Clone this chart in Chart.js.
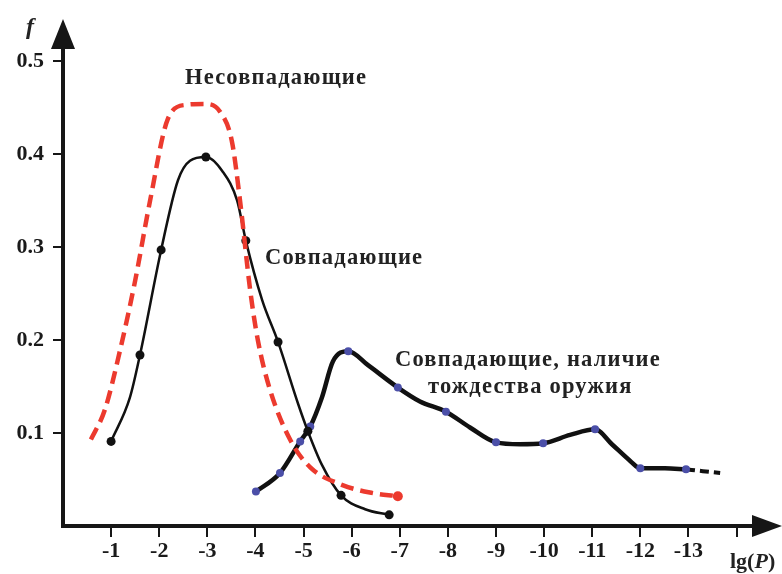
<!DOCTYPE html>
<html>
<head>
<meta charset="utf-8">
<script src="https://cdn.jsdelivr.net/npm/chart.js@4.4.0/dist/chart.umd.min.js"></script>
<style>
  html, body { margin: 0; padding: 0; background: #fff; }
  #wrap { width: 782px; height: 574px; }
</style>
</head>
<body>
<div id="wrap"><canvas id="myChart" width="782" height="574"></canvas></div>
<script>
// x = -lg(P), y = f
const xTicks = [1, 2, 3, 4, 5, 6, 7, 8, 9, 10, 11, 12, 13, 14];
const yTicks = [0.1, 0.2, 0.3, 0.4, 0.5];

// "Несовпадающие" (red dashed)
const redX = [0.58, 0.87, 1.19, 1.5, 1.81, 2.18, 2.54, 2.95, 3.26, 3.51, 3.68, 3.89, 4.05, 4.3, 4.72, 5.14, 5.76, 6.38, 6.96];
const redY = [0.093, 0.125, 0.19, 0.264, 0.35, 0.438, 0.453, 0.454, 0.446, 0.414, 0.35, 0.254, 0.2, 0.147, 0.093, 0.063, 0.045, 0.036, 0.032];

// "Совпадающие" (thin black)
const blackX = [1.0, 1.39, 1.6, 2.04, 2.39, 2.64, 2.97, 3.31, 3.62, 3.8, 4.14, 4.47, 4.89, 5.09, 5.38, 5.78, 6.28, 6.78];
const blackY = [0.091, 0.138, 0.184, 0.297, 0.372, 0.393, 0.397, 0.382, 0.35, 0.307, 0.243, 0.198, 0.131, 0.102, 0.066, 0.033, 0.018, 0.012];
const blackDots = [0, 2, 3, 6, 9, 11, 13, 15, 17];

// "Совпадающие, наличие тождества оружия" (thick black, blue dots)
const weaponX = [4.01, 4.51, 4.93, 5.14, 5.38, 5.61, 5.93, 6.34, 6.96, 7.42, 7.96, 8.46, 9.0, 9.5, 9.98, 10.54, 11.06, 11.41, 11.79, 12.0, 12.51, 12.95];
const weaponY = [0.037, 0.057, 0.091, 0.107, 0.138, 0.177, 0.188, 0.173, 0.149, 0.134, 0.123, 0.106, 0.09, 0.088, 0.089, 0.098, 0.104, 0.088, 0.07, 0.062, 0.062, 0.061];
const weaponDots = [0, 1, 2, 3, 6, 8, 10, 12, 14, 16, 19, 21];
const tailX = [12.95, 13.3, 13.66];
const tailY = [0.061, 0.059, 0.057];

function pts(xs, ys) {
  return xs.map((x, i) => ({ x: x, y: ys[i] }));
}

const serif = '"Liberation Serif", "DejaVu Serif", serif';
const ink = "#161616";

const decorPlugin = {
  id: "decor",
  afterDraw(chart) {
    const ctx = chart.ctx;
    const xs = chart.scales.x;
    const ys = chart.scales.y;
    const x0 = xs.getPixelForValue(0);
    const y0 = ys.getPixelForValue(0);
    ctx.save();
    ctx.strokeStyle = ink;
    ctx.fillStyle = ink;
    ctx.lineWidth = 4;
    // y axis
    ctx.beginPath();
    ctx.moveTo(x0, y0 + 2);
    ctx.lineTo(x0, 45);
    ctx.stroke();
    ctx.beginPath();
    ctx.moveTo(x0 - 12, 49);
    ctx.lineTo(x0 + 12, 49);
    ctx.lineTo(x0, 19);
    ctx.closePath();
    ctx.fill();
    // x axis
    ctx.beginPath();
    ctx.moveTo(x0 - 2, y0);
    ctx.lineTo(756, y0);
    ctx.stroke();
    ctx.beginPath();
    ctx.moveTo(752, y0 - 11);
    ctx.lineTo(752, y0 + 11);
    ctx.lineTo(782, y0);
    ctx.closePath();
    ctx.fill();

    ctx.fillStyle = "#222";
    ctx.textBaseline = "middle";
    ctx.font = "italic bold 24px " + serif;
    ctx.textAlign = "left";
    ctx.fillText("f", 26, 28);

    ctx.font = "bold 22px " + serif;
    const w1 = ctx.measureText("lg(").width;
    ctx.fillText("lg(", 730, 562);
    ctx.font = "italic bold 22px " + serif;
    const w2 = ctx.measureText("P").width;
    ctx.fillText("P", 730 + w1, 562);
    ctx.font = "bold 22px " + serif;
    ctx.fillText(")", 730 + w1 + w2, 562);

    ctx.font = "bold 22.5px " + serif;
    ctx.letterSpacing = "1.2px";
    ctx.fillText("Несовпадающие", 185, 78);
    ctx.fillText("Совпадающие", 265, 258);
    ctx.fillText("Совпадающие, наличие", 395, 360);
    ctx.fillText("тождества оружия", 428, 387);
    ctx.restore();
  },
};

const ctx = document.getElementById("myChart");

new Chart(ctx, {
  type: "scatter",
  data: {
    datasets: [
      {
        label: "Несовпадающие",
        data: pts(redX, redY),
        showLine: true,
        borderColor: "#ec3a2e",
        borderWidth: 4.5,
        borderDash: [13, 7],
        cubicInterpolationMode: "monotone",
        pointRadius: (c) => (c.dataIndex === redX.length - 1 ? 5 : 0),
        pointBackgroundColor: "#ec3a2e",
        pointBorderWidth: 0,
      },
      {
        label: "Совпадающие",
        data: pts(blackX, blackY),
        showLine: true,
        borderColor: "#111",
        borderWidth: 2.5,
        cubicInterpolationMode: "monotone",
        pointRadius: (c) => (blackDots.includes(c.dataIndex) ? 4.5 : 0),
        pointBackgroundColor: "#111",
        pointBorderWidth: 0,
      },
      {
        label: "Совпадающие, наличие тождества оружия",
        data: pts(weaponX, weaponY),
        showLine: true,
        borderColor: "#111",
        borderWidth: 4.5,
        cubicInterpolationMode: "monotone",
        pointRadius: (c) => (weaponDots.includes(c.dataIndex) ? 4 : 0),
        pointBackgroundColor: "#4b4fa8",
        pointBorderWidth: 0,
      },
      {
        label: "tail",
        data: pts(tailX, tailY),
        showLine: true,
        borderColor: "#111",
        borderWidth: 4,
        borderDash: [9, 5],
        cubicInterpolationMode: "monotone",
        pointRadius: 0,
      },
    ],
  },
  options: {
    responsive: false,
    animation: false,
    clip: false,
    layout: { padding: { top: 20, right: 7, left: 0, bottom: 0 } },
    plugins: {
      legend: { display: false },
      tooltip: { enabled: false },
    },
    scales: {
      x: {
        type: "linear",
        min: 0,
        max: 14.8,
        afterBuildTicks: (s) => {
          s.ticks = xTicks.map((v) => ({ value: v }));
        },
        afterFit: (s) => {
          s.height = 48;
        },
        border: { display: false },
        grid: {
          drawOnChartArea: false,
          drawTicks: true,
          tickLength: 11,
          color: ink,
          lineWidth: 2,
        },
        ticks: {
          padding: 1,
          color: "#1a1a1a",
          font: { family: serif, size: 22, weight: "bold" },
          callback: (v) => (v <= 13 ? "-" + v : ""),
        },
      },
      y: {
        type: "linear",
        min: 0,
        max: 0.542,
        afterBuildTicks: (s) => {
          s.ticks = yTicks.map((v) => ({ value: v }));
        },
        afterFit: (s) => {
          s.width = 63;
        },
        border: { display: false },
        grid: {
          drawOnChartArea: false,
          drawTicks: true,
          tickLength: 10,
          color: ink,
          lineWidth: 2,
        },
        ticks: {
          padding: 9,
          color: "#1a1a1a",
          font: { family: serif, size: 22, weight: "bold" },
          callback: (v) => v.toFixed(1),
        },
      },
    },
  },
  plugins: [decorPlugin],
});
</script>
</body>
</html>
